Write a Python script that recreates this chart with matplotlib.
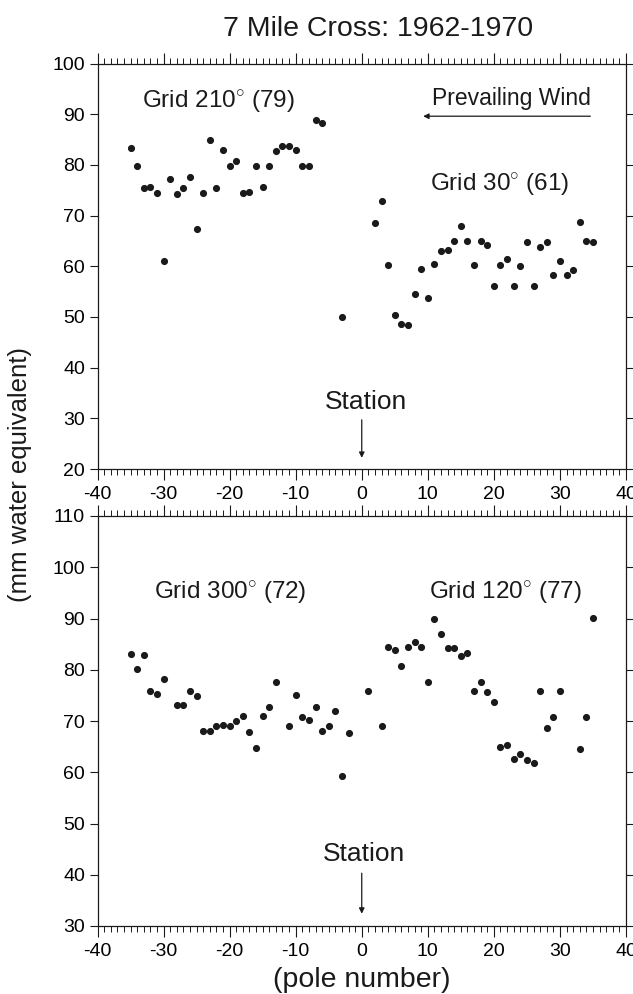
import matplotlib
matplotlib.use("Agg")
import matplotlib.pyplot as plt
from matplotlib.ticker import MultipleLocator

plt.rcParams['font.family'] = ['Liberation Sans', 'DejaVu Sans']
plt.rcParams['mathtext.fontset'] = 'custom'
plt.rcParams['mathtext.rm'] = 'Liberation Sans'
plt.rcParams['axes.unicode_minus'] = False

# top panel: Grid 210 (west side) and Grid 30 (east side)
x_210 = [-35, -34, -33, -32, -31, -30, -29, -28, -27, -26, -25, -24, -23, -22, -21,
         -20, -19, -18, -17, -16, -15, -14, -13, -12, -11, -10, -9, -8, -7, -6, -3]
y_210 = [83.3, 79.7, 75.5, 75.6, 74.5, 61.0, 77.3, 74.3, 75.4, 77.6, 67.4, 74.4, 84.9,
         75.4, 82.9, 79.7, 80.8, 74.5, 74.6, 79.7, 75.6, 79.8, 82.7, 83.7, 83.8, 82.9,
         79.7, 79.7, 88.9, 88.2, 50.0]
x_30 = [2, 3, 4, 5, 6, 7, 8, 9, 10, 11, 12, 13, 14, 15, 16, 17, 18, 19, 20, 21, 22,
        23, 24, 25, 26, 27, 28, 29, 30, 31, 32, 33, 34, 35]
y_30 = [68.6, 72.8, 60.3, 50.3, 48.6, 48.5, 54.5, 59.4, 53.7, 60.4, 63.1, 63.3, 65.0,
        67.9, 65.0, 60.3, 65.0, 64.1, 56.2, 60.3, 61.4, 56.2, 60.0, 64.8, 56.2, 63.7,
        64.8, 58.3, 61.1, 58.2, 59.3, 68.8, 65.0, 64.8]

# bottom panel: Grid 300 and Grid 120
x_300 = [-35, -34, -33, -32, -31, -30, -28, -27, -26, -25, -24, -23, -22, -21, -20,
         -19, -18, -17, -16, -15, -14, -13, -11, -10, -9, -8, -7, -6, -5, -4, -3, -2]
y_300 = [83.0, 80.1, 82.9, 75.9, 75.3, 78.2, 73.1, 73.1, 75.8, 74.9, 68.0, 68.0, 69.0,
         69.2, 69.0, 70.0, 71.0, 67.8, 64.7, 71.0, 72.8, 77.6, 69.0, 75.1, 70.8, 70.1,
         72.7, 68.0, 69.0, 72.0, 59.3, 67.6]
x_120 = [1, 3, 4, 5, 6, 7, 8, 9, 10, 11, 12, 13, 14, 15, 16, 17, 18, 19, 20, 21, 22,
         23, 24, 25, 26, 27, 28, 29, 30, 33, 34, 35]
y_120 = [75.9, 69.0, 84.4, 83.8, 80.7, 84.4, 85.4, 84.4, 77.6, 89.9, 86.9, 84.2, 84.2,
         82.6, 83.3, 75.8, 77.6, 75.6, 73.8, 64.9, 65.3, 62.5, 63.5, 62.3, 61.9, 75.8,
         68.7, 70.8, 75.8, 64.5, 70.7, 90.1]

W, H = 633, 994
fig = plt.figure(figsize=(W / 100, H / 100), dpi=100)
ink = '#1a1a1a'
deg = r'$^{\circ}$'


def rect(left, top, right, bottom):
    return [left / W, 1 - bottom / H, (right - left) / W, (bottom - top) / H]


def style(ax, ymin, ymax):
    ax.set_xlim(-40, 40)
    ax.set_ylim(ymin, ymax)
    ax.xaxis.set_major_locator(MultipleLocator(10))
    ax.xaxis.set_minor_locator(MultipleLocator(1))
    ax.yaxis.set_major_locator(MultipleLocator(10))
    ax.tick_params(axis='x', which='major', direction='out', length=8, width=0.8,
                   top=True, bottom=True, labelsize=14, color=ink, pad=4)
    ax.tick_params(axis='x', which='minor', direction='out', length=4.5, width=0.7,
                   top=True, bottom=True, color=ink)
    ax.tick_params(axis='y', which='major', direction='out', length=6, width=0.8,
                   left=True, right=True, labelsize=14, color=ink, pad=3)
    for s in ax.spines.values():
        s.set_color(ink)
        s.set_linewidth(0.9)


ax1 = fig.add_axes(rect(97.5, 63.5, 626, 469))
style(ax1, 20, 100)
ax1.scatter(x_210, y_210, s=17, color=ink, zorder=3)
ax1.scatter(x_30, y_30, s=17, color=ink, zorder=3)
ax1.text(-21.7, 92.4, 'Grid 210' + deg + ' (79)', ha='center', va='center',
         fontsize=17.5, color=ink)
ax1.text(20.8, 76.1, 'Grid 30' + deg + ' (61)', ha='center', va='center',
         fontsize=17.5, color=ink)
ax1.text(22.7, 93.0, 'Prevailing Wind', ha='center', va='center', fontsize=16.5, color=ink)
ax1.annotate('', xy=(9.3, 89.6), xytext=(34.6, 89.6),
             arrowprops=dict(arrowstyle='-|>', color=ink, lw=0.9,
                             mutation_scale=8, shrinkA=0, shrinkB=0))
ax1.text(0.6, 33.3, 'Station', ha='center', va='center', fontsize=19, color=ink)
ax1.annotate('', xy=(0, 22.2), xytext=(0, 29.7),
             arrowprops=dict(arrowstyle='-|>', color=ink, lw=0.9,
                             mutation_scale=8, shrinkA=0, shrinkB=0))

ax2 = fig.add_axes(rect(97.5, 516, 626, 926))
style(ax2, 30, 110)
ax2.scatter(x_300, y_300, s=17, color=ink, zorder=3)
ax2.scatter(x_120, y_120, s=17, color=ink, zorder=3)
ax2.text(-19.9, 95.0, 'Grid 300' + deg + ' (72)', ha='center', va='center',
         fontsize=17.5, color=ink)
ax2.text(21.7, 95.0, 'Grid 120' + deg + ' (77)', ha='center', va='center',
         fontsize=17.5, color=ink)
ax2.text(0.3, 44.0, 'Station', ha='center', va='center', fontsize=19, color=ink)
ax2.annotate('', xy=(0, 32.4), xytext=(0, 40.3),
             arrowprops=dict(arrowstyle='-|>', color=ink, lw=0.9,
                             mutation_scale=8, shrinkA=0, shrinkB=0))
ax2.set_xlabel('(pole number)', fontsize=20.5, color=ink, labelpad=5)

fig.text(378 / W, 1 - 29 / H, '7 Mile Cross: 1962-1970', ha='center', va='center',
         fontsize=20.5, color=ink)
fig.text(20 / W, 1 - 475 / H, '(mm water equivalent)', ha='center', va='center',
         rotation=90, fontsize=18.5, color=ink)

fig.savefig('out.png', dpi=100, facecolor='white')
